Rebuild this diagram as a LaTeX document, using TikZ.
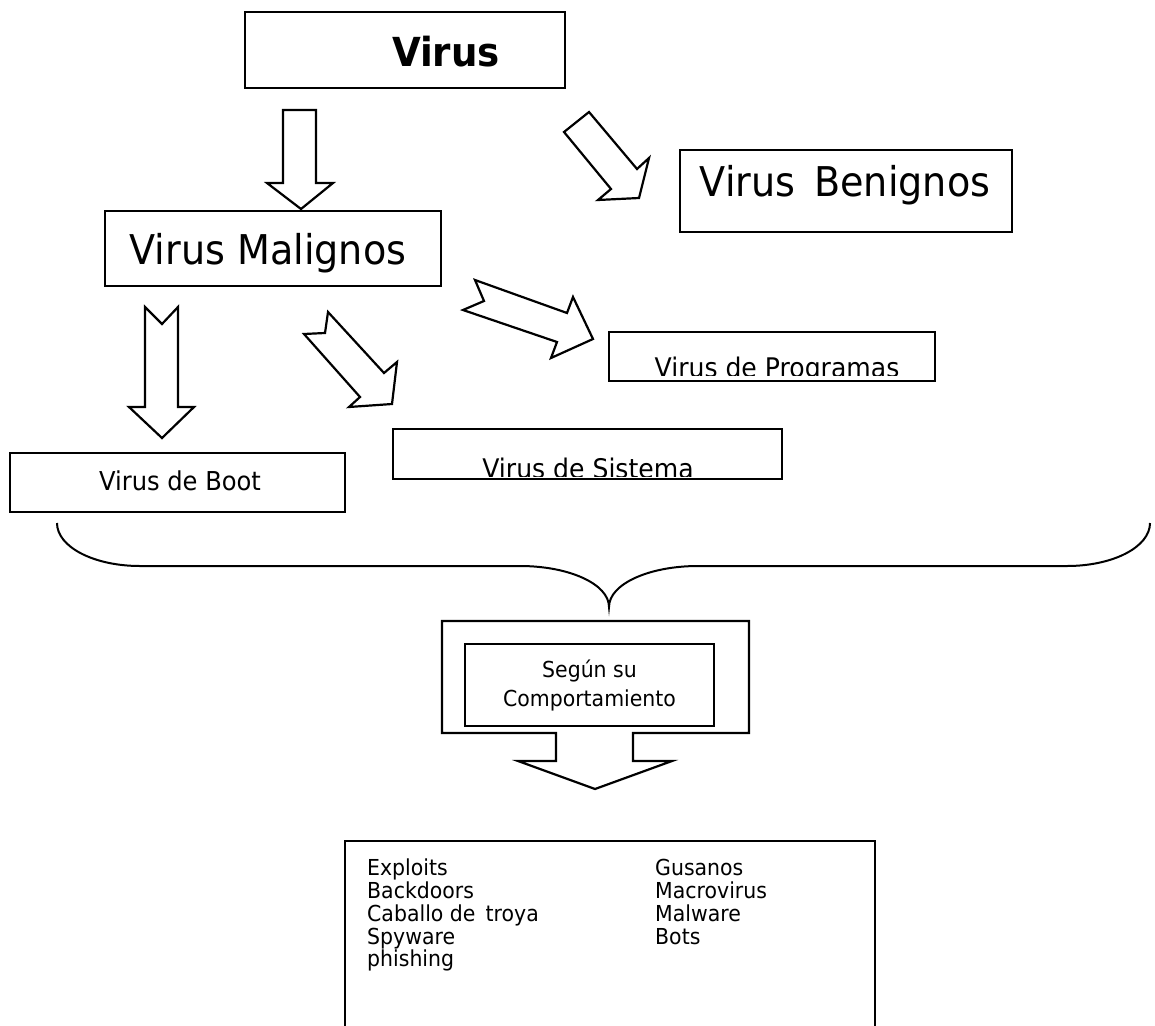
\documentclass[tikz,border=0pt]{standalone}
\usepackage{fontspec}
\setmainfont[FakeStretch=0.93]{DejaVu Sans}
\begin{document}
\begin{tikzpicture}[x=1pt,y=-1pt,line join=miter,
  box/.style={draw,line width=2.2pt,inner sep=0pt},
  bigarrow/.style={draw,line width=2.2pt,fill=white},
  bigtxt/.style={inner sep=0pt,font=\fontsize{41}{48}\selectfont},
  midtxt/.style={inner sep=0pt,font=\fontsize{27}{32}\selectfont},
  smalltxt/.style={inner sep=0pt,font=\fontsize{22}{26}\selectfont},
  brace/.style={draw,line width=2pt}]
\useasboundingbox (0,0) rectangle (1155,1025);
% Virus
\node[box,minimum width=320pt,minimum height=76pt] (virus) at (405,50) {};
\node[bigtxt,font=\fontsize{40}{46}\selectfont\bfseries] (virustxt) at (446,52) {Virus};
% Benignos
\node[box,minimum width=332pt,minimum height=82pt] (benig) at (846,191) {};
\node[bigtxt] (benigtxt) at (845,185) {Virus\, Benignos};
% Malignos
\node[box,minimum width=336pt,minimum height=75pt] (malig) at (273,248.5) {};
\node[bigtxt] (maligtxt) at (268,253) {Virus Malignos};
% Programas
\node[box,minimum width=326pt,minimum height=49pt] (prog) at (772,356.5) {};
\begin{scope}
\clip (612,335) rectangle (932,375);
\node[midtxt,anchor=base] (progtxt) at (777,377) {Virus de Programas};
\end{scope}
% Sistema
\node[box,minimum width=389pt,minimum height=50pt] (sist) at (587.5,454) {};
\begin{scope}
\clip (396,432) rectangle (779,476);
\node[midtxt,anchor=base] (sisttxt) at (588,478) {Virus de Sistema};
\end{scope}
% Boot
\node[box,minimum width=335pt,minimum height=59pt] (boot) at (177.5,482.5) {};
\node[midtxt,font=\fontsize{26}{30}\selectfont] (boottxt) at (180,481) {Virus de Boot};
% arrows
\draw[bigarrow] (283,110) -- (316,110) -- (316,183) -- (333,183) -- (301,209) -- (267,183) -- (283,183) -- cycle;
\draw[bigarrow] (564,132) -- (589,112) -- (637,169) -- (649,158) -- (639,198) -- (598,200) -- (611,189) -- cycle;
\draw[bigarrow] (475,280) -- (567,313) -- (573,297) -- (593,339) -- (551,358) -- (557,342) -- (463,310) -- (484,301) -- cycle;
\draw[bigarrow] (328,312) -- (384,373) -- (397,362) -- (392,404) -- (349,407) -- (360,397) -- (304,334) -- (325,333) -- cycle;
\draw[bigarrow] (145,307) -- (162,324) -- (178,307) -- (178,407) -- (194,407) -- (162,438) -- (129,407) -- (145,407) -- cycle;
% brace
\draw[brace] (57,523) .. controls (57,547) and (94,566) .. (140,566) -- (520,566)
  .. controls (569,566) and (609,584) .. (609,607)
  .. controls (609,584) and (649,566) .. (698,566) -- (1067,566)
  .. controls (1113,566) and (1150,547) .. (1150,523);
% callout
\draw[bigarrow] (442,621) -- (749,621) -- (749,733) -- (633,733) -- (633,761) -- (672,761) -- (595,789) -- (518,761) -- (556,761) -- (556,733) -- (442,733) -- cycle;
\node[box,minimum width=249pt,minimum height=82pt,align=center,font=\fontsize{22}{29}\selectfont] (segun) at (589.5,685) {Según su\\Comportamiento};
% bottom list
\draw[line width=2.2pt] (345,1030) -- (345,841) -- (875,841) -- (875,1030);
\node[smalltxt,anchor=base west] (l1) at (367,875) {Exploits};
\node[smalltxt,anchor=base west] (l2) at (367,898) {Backdoors};
\node[smalltxt,anchor=base west] (l3) at (367,921) {Caballo de\, troya};
\node[smalltxt,anchor=base west] (l4) at (367,944) {Spyware};
\node[smalltxt,anchor=base west] (l5) at (367,966) {phishing};
\node[smalltxt,anchor=base west] (r1) at (655,875) {Gusanos};
\node[smalltxt,anchor=base west] (r2) at (655,898) {Macrovirus};
\node[smalltxt,anchor=base west] (r3) at (655,921) {Malware};
\node[smalltxt,anchor=base west] (r4) at (655,944) {Bots};
\end{tikzpicture}
\end{document}
